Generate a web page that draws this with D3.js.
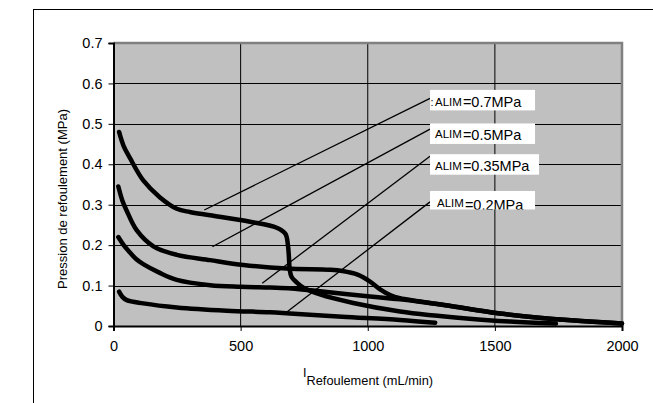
<!DOCTYPE html>
<html>
<head>
<meta charset="utf-8">
<script src="https://cdn.jsdelivr.net/npm/d3@7"></script>
<style>
body { margin: 0; background: #fff; }
text { font-family: "Liberation Sans", Arial, sans-serif; }
</style>
</head>
<body>
<svg width="653" height="403"></svg>
<script>
// debit (mL/min) / pression (MPa)
var debit07 = [22, 40, 65, 117, 183, 249, 300, 380, 537, 642, 676, 686, 690, 693, 700, 720, 747, 812, 943, 1127, 1400, 1560, 1740];
var pression07 = [0.48, 0.445, 0.415, 0.36, 0.318, 0.29, 0.282, 0.274, 0.258, 0.243, 0.228, 0.2, 0.17, 0.14, 0.122, 0.108, 0.095, 0.078, 0.057, 0.036, 0.018, 0.011, 0.006];

var debit05 = [19, 35, 52, 91, 157, 249, 380, 511, 681, 850, 900, 960, 1009, 1050, 1090, 1127, 1300, 1520, 1800, 2000];
var pression05 = [0.345, 0.31, 0.285, 0.237, 0.197, 0.176, 0.163, 0.151, 0.142, 0.139, 0.136, 0.127, 0.11, 0.09, 0.076, 0.069, 0.052, 0.031, 0.014, 0.006];

var debit035 = [19, 40, 60, 90, 117, 180, 249, 380, 500, 616, 700, 812, 1009, 1127, 1300, 1520, 1800, 2000];
var pression035 = [0.22, 0.2, 0.185, 0.165, 0.153, 0.132, 0.114, 0.101, 0.097, 0.095, 0.093, 0.086, 0.073, 0.066, 0.052, 0.031, 0.014, 0.006];

var debit02 = [22, 35, 52, 117, 249, 445, 616, 694, 900, 1127, 1265];
var pression02 = [0.085, 0.072, 0.064, 0.056, 0.046, 0.038, 0.034, 0.031, 0.023, 0.015, 0.008];

var xTicks = [0, 500, 1000, 1500, 2000];
var yTicks = [0, 0.1, 0.2, 0.3, 0.4, 0.5, 0.6, 0.7];
var yTickLabels = ["0", "0.1", "0.2", "0.3", "0.4", "0.5", "0.6", "0.7"];

// annotations: label text, box top (data), leader start y, leader end
var labelPrefix = [":", "", "", ""];
var labelValue = ["=0.7MPa", "=0.5MPa", "=0.35MPa", "=0.2MPa"];
var labelX = [1245, 1245, 1245, 1245];
var labelTop = [0.584, 0.501, 0.425, 0.334];
var leaderStartY = [0.563, 0.487, 0.42, 0.307];
var leaderEndX = [357, 389, 585, 674];
var leaderEndY = [0.287, 0.196, 0.106, 0.031];

var svg = d3.select("svg");

var x = d3.scaleLinear().domain([0, 2000]).range([113.5, 622]);
var y = d3.scaleLinear().domain([0, 0.7]).range([326, 43]);

// outer frame
svg.append("rect")
    .attr("x", 33.5).attr("y", 9.5)
    .attr("width", 700).attr("height", 500)
    .attr("fill", "none").attr("stroke", "#000").attr("stroke-width", 1);

var g = svg.append("g");

// plot area
g.append("rect")
    .attr("x", x(0)).attr("y", y(0.7))
    .attr("width", x(2000) - x(0)).attr("height", y(0) - y(0.7))
    .attr("fill", "#c0c0c0");

// grid
g.selectAll(".vgrid")
  .data(xTicks.slice(1, -1))
  .enter().append("line")
    .attr("x1", function(d) { return x(d); })
    .attr("x2", function(d) { return x(d); })
    .attr("y1", y(0)).attr("y2", y(0.7))
    .attr("stroke", "#000").attr("stroke-width", 1);

g.selectAll(".hgrid")
  .data(yTicks.slice(1, -1))
  .enter().append("line")
    .attr("x1", x(0)).attr("x2", x(2000))
    .attr("y1", function(d) { return Math.round(y(d)) + 0.5; })
    .attr("y2", function(d) { return Math.round(y(d)) + 0.5; })
    .attr("stroke", "#000").attr("stroke-width", 1);

// plot border (grey)
g.append("path")
    .attr("d", "M" + x(0) + "," + y(0.7) + "H" + x(2000) + "V" + y(0))
    .attr("fill", "none").attr("stroke", "#808080").attr("stroke-width", 2.5);

// axes
var yAxis = d3.axisLeft(y).tickValues(yTicks).tickSize(5).tickPadding(6)
    .tickFormat(function(d, i) { return yTickLabels[i]; });
var xAxis = d3.axisBottom(x).tickValues(xTicks).tickSize(5).tickPadding(10)
    .tickFormat(function(d) { return d; });

var ya = g.append("g").attr("transform", "translate(" + x(0) + ",0)").call(yAxis);
var xa = g.append("g").attr("transform", "translate(0," + y(0) + ")").call(xAxis);
[ya, xa].forEach(function(a) {
  a.select(".domain").attr("stroke", "#000").attr("stroke-width", 2);
  a.selectAll(".tick line").attr("stroke", "#000");
  a.selectAll("text").attr("fill", "#000")
      .style("font-family", '"Liberation Sans", Arial, sans-serif')
      .style("font-size", "14.5px");
});

// curves
var line = d3.line()
    .x(function(d) { return x(d[0]); })
    .y(function(d) { return y(d[1]); })
    .curve(d3.curveCatmullRom.alpha(0.5));

var series = [
  d3.zip(debit07, pression07),
  d3.zip(debit05, pression05),
  d3.zip(debit035, pression035),
  d3.zip(debit02, pression02)
];

g.selectAll(".courbe")
  .data(series)
  .enter().append("path")
    .attr("d", line)
    .attr("fill", "none")
    .attr("stroke", "#000")
    .attr("stroke-width", 4.5)
    .attr("stroke-linecap", "round")
    .attr("stroke-linejoin", "round");

// leader lines
g.selectAll(".leader")
  .data(labelValue)
  .enter().append("line")
    .attr("x1", function(d, i) { return x(labelX[i]); })
    .attr("y1", function(d, i) { return y(leaderStartY[i]); })
    .attr("x2", function(d, i) { return x(leaderEndX[i]); })
    .attr("y2", function(d, i) { return y(leaderEndY[i]); })
    .attr("stroke", "#000").attr("stroke-width", 1.3);

// label boxes
var boxW = [105, 105, 109, 105];
var boxH = [20.5, 20.5, 20.5, 18.5];
var lab = g.selectAll(".lab")
  .data(labelValue)
  .enter().append("g");

lab.append("clipPath")
    .attr("id", function(d, i) { return "clip" + i; })
  .append("rect")
    .attr("x", function(d, i) { return x(labelX[i]); })
    .attr("y", function(d, i) { return y(labelTop[i]); })
    .attr("width", function(d, i) { return boxW[i]; })
    .attr("height", function(d, i) { return boxH[i]; });

lab.append("rect")
    .attr("x", function(d, i) { return x(labelX[i]); })
    .attr("y", function(d, i) { return y(labelTop[i]); })
    .attr("width", function(d, i) { return boxW[i]; })
    .attr("height", function(d, i) { return boxH[i]; })
    .attr("fill", "#fff");

var txt = lab.append("text")
    .attr("clip-path", function(d, i) { return "url(#clip" + i + ")"; })
    .attr("x", function(d, i) { return x(labelX[i]) + (i == 3 ? 7 : 5); })
    .attr("y", function(d, i) { return y(labelTop[i]) + [16.5, 14.5, 16, 16][i]; })
    .attr("fill", "#000");
txt.append("tspan")
    .style("font-size", "11.5px")
    .text(function(d, i) { return "ALIM"; });
txt.append("tspan")
    .style("font-size", "14.5px")
    .attr("dx", 1)
    .attr("dy", function(d, i) { return [0.3, 2, 0.7, 3][i]; })
    .text(function(d) { return d; });

lab.filter(function(d, i) { return labelPrefix[i] != ""; })
  .append("text")
    .attr("x", function(d, i) { return x(labelX[0]) + 0.5; })
    .attr("y", y(labelTop[0]) + 16.5)
    .style("font-size", "11px")
    .text(function(d, i) { return labelPrefix[0]; });

// axis titles
svg.append("text")
    .attr("transform", "translate(67,199) rotate(-90)")
    .attr("text-anchor", "middle")
    .style("font-size", "13px")
    .text("Pression de refoulement (MPa)");

svg.append("text")
    .attr("x", 303).attr("y", 377)
    .style("font-size", "12.5px")
    .text("I");
svg.append("text")
    .attr("x", 306.5).attr("y", 385)
    .style("font-size", "12.8px")
    .text("Refoulement (mL/min)");
</script>
</body>
</html>
